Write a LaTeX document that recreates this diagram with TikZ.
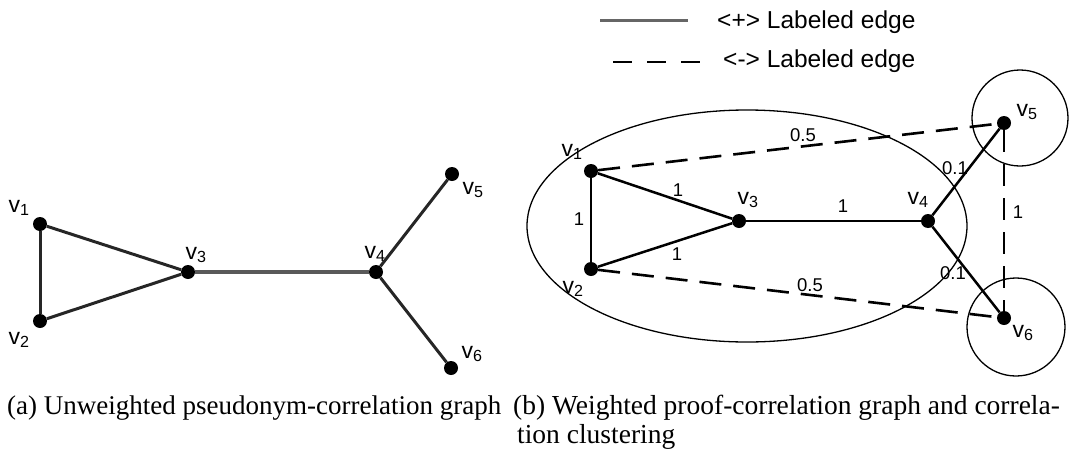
\documentclass[tikz,border=0pt]{standalone}
\usepackage{fontspec}
\setmainfont{Liberation Sans}
\newfontfamily\capfont{Liberation Serif}
\usepackage{tikz}
\usetikzlibrary{shapes.geometric, positioning}
\tikzset{
  vtx/.style     = {circle, fill=black, inner sep=0pt, minimum size=14pt},
  vlabel/.style  = {font=\fontsize{23}{23}\selectfont, inner sep=0pt},
  wlabel/.style  = {font=\fontsize{18.5}{18.5}\selectfont, inner sep=0pt},
  legtext/.style = {font=\fontsize{24.5}{24.5}\selectfont, inner sep=0pt, anchor=west},
  edgeA/.style   = {line width=3pt, black!85},
  edgeB/.style   = {line width=2.5pt},
  negedge/.style = {line width=2.6pt, dash pattern=on 22pt off 12pt},
  cluster/.style = {draw, line width=1.3pt, inner sep=0pt},
  captext/.style = {font=\capfont\fontsize{27.5}{30}\selectfont, inner sep=0pt, anchor=west},
}

\begin{document}
\begin{tikzpicture}[x=1pt, y=-1pt]
    \useasboundingbox (0,0) rectangle (1072,453);

    %% Legend
    \coordinate (pl) at (600,20);
    \coordinate (pr) at (688,20);
    \coordinate (nl) at (613,62);
    \coordinate (nr) at (703,62);
    \draw[line width=3pt, black!60] (pl) -- (pr);
    \draw[line width=2.4pt, dash pattern=on 19pt off 15pt] (nl) -- (nr);
    \node[legtext] (lp) at (717,22) {<+> Labeled edge};
    \node[legtext] (ln) at (723,61) {<-> Labeled edge};

    %% (a) unweighted graph
    \node[vtx] (a1) at (40,224) {};
    \node[vtx] (a2) at (40,321) {};
    \node[vtx] (a3) at (188,272) {};
    \node[vtx] (a4) at (376,272) {};
    \node[vtx] (a5) at (452,174) {};
    \node[vtx] (a6) at (451,368) {};

    \draw[edgeA] (a1) -- (a2);
    \draw[edgeA] (a1) -- (a3);
    \draw[edgeA] (a2) -- (a3);
    \draw[edgeA, black!65, line width=3.5pt] (a3) -- (a4);
    \draw[edgeA] (a4) -- (a5);
    \draw[edgeA] (a4) -- (a6);

    \node[vlabel] (la1) at (19,208) {v\textsubscript{1}};
    \node[vlabel] (la2) at (19,340) {v\textsubscript{2}};
    \node[vlabel] (la3) at (196,255) {v\textsubscript{3}};
    \node[vlabel] (la4) at (375,254) {v\textsubscript{4}};
    \node[vlabel] (la5) at (473,190) {v\textsubscript{5}};
    \node[vlabel] (la6) at (472,354) {v\textsubscript{6}};

    %% (b) weighted graph and clusters
    \node[cluster, ellipse, minimum width=440pt, minimum height=232pt] (clA) at (747,226) {};
    \node[cluster, circle, minimum size=96pt] (clB) at (1020,118) {};
    \node[cluster, circle, minimum size=98pt] (clC) at (1016,327) {};

    \node[vtx] (b1) at (591,171) {};
    \node[vtx] (b2) at (591,269) {};
    \node[vtx] (b3) at (739,221) {};
    \node[vtx] (b4) at (928,221) {};
    \node[vtx] (b5) at (1004,123) {};
    \node[vtx] (b6) at (1004,318) {};

    \draw[edgeB] (b1) -- (b2);
    \draw[edgeB] (b1) -- (b3);
    \draw[edgeB] (b2) -- (b3);
    \draw[edgeB] (b3) -- (b4);
    \draw[edgeB] (b4) -- (b5);
    \draw[edgeB] (b4) -- (b6);
    \draw[negedge] (b1) -- (b5);
    \draw[negedge] (b2) -- (b6);
    \draw[negedge] (b5) -- (b6);

    \node[vlabel] (lb1) at (572,152) {v\textsubscript{1}};
    \node[vlabel] (lb2) at (573,289) {v\textsubscript{2}};
    \node[vlabel] (lb3) at (748,200) {v\textsubscript{3}};
    \node[vlabel] (lb4) at (918,200) {v\textsubscript{4}};
    \node[vlabel] (lb5) at (1027,112) {v\textsubscript{5}};
    \node[vlabel] (lb6) at (1023,333) {v\textsubscript{6}};

    %% weights
    \node[wlabel] (w13) at (678,190) {1};
    \node[wlabel] (w23) at (677,254) {1};
    \node[wlabel] (w12) at (579,219) {1};
    \node[wlabel] (w34) at (843,206) {1};
    \node[wlabel] (w15) at (803,135) {0.5};
    \node[wlabel] (w26) at (810,285) {0.5};
    \node[wlabel] (w45) at (955,168) {0.1};
    \node[wlabel] (w46) at (953,273) {0.1};
    \node[wlabel] (w56) at (1018,212) {1};

    %% Captions
    \node[captext, font=\capfont\fontsize{27}{30}\selectfont] (capA) at (7,408) {(a) Unweighted pseudonym-correlation graph};
    \node[captext] (capB)  at (513,408) {(b) Weighted proof-correlation graph and correla-};
    \node[captext] (capB2) at (517,437) {tion clustering};

\end{tikzpicture}
\end{document}
